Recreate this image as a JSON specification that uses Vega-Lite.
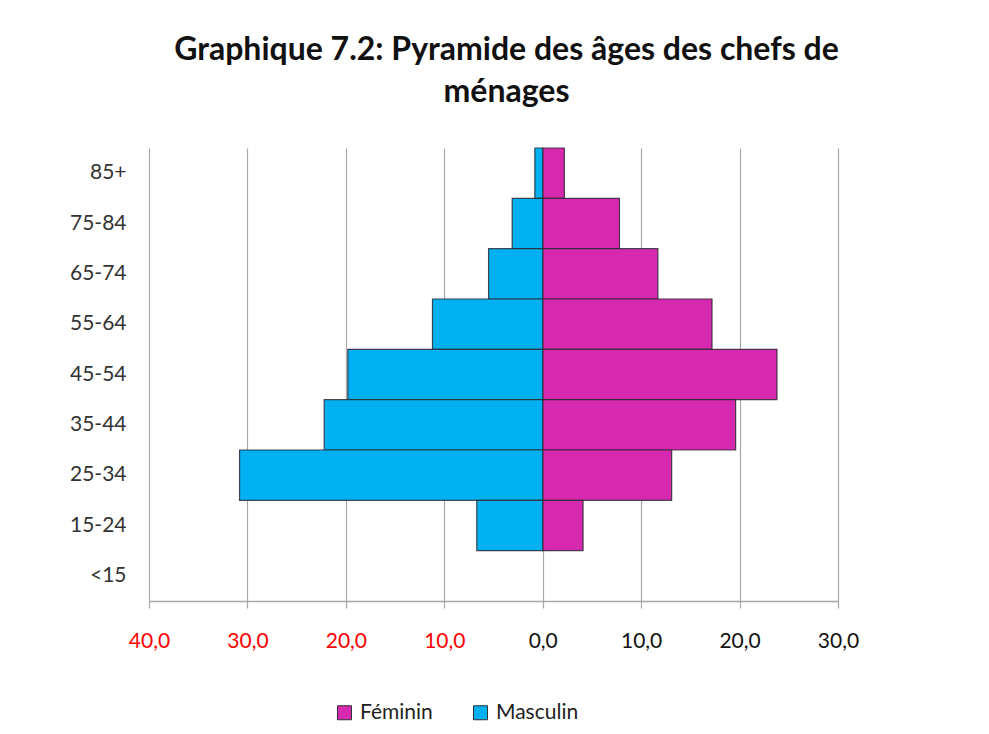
{
  "$schema": "https://vega.github.io/schema/vega-lite/v6.json",
  "autosize": {"type": "none"},
  "width": 689,
  "height": 453,
  "padding": {"left": 149, "top": 148, "right": 151, "bottom": 133},
  "background": "white",
  "title": {
    "text": ["Graphique 7.2: Pyramide des âges des chefs de", "ménages"],
    "font": "Lato",
    "fontSize": 32,
    "fontWeight": "bold",
    "color": "#111111",
    "anchor": "middle",
    "dx": 13,
    "offset": 38,
    "lineHeight": 42
  },
  "data": {
    "values": [
      {"age": "85+", "sexe": "Féminin", "pct": 2.2},
      {"age": "75-84", "sexe": "Féminin", "pct": 7.8},
      {"age": "65-74", "sexe": "Féminin", "pct": 11.7},
      {"age": "55-64", "sexe": "Féminin", "pct": 17.2},
      {"age": "45-54", "sexe": "Féminin", "pct": 23.8},
      {"age": "35-44", "sexe": "Féminin", "pct": 19.6},
      {"age": "25-34", "sexe": "Féminin", "pct": 13.1},
      {"age": "15-24", "sexe": "Féminin", "pct": 4.1},
      {"age": "<15", "sexe": "Féminin", "pct": 0},
      {"age": "85+", "sexe": "Masculin", "pct": 0.8},
      {"age": "75-84", "sexe": "Masculin", "pct": 3.1},
      {"age": "65-74", "sexe": "Masculin", "pct": 5.5},
      {"age": "55-64", "sexe": "Masculin", "pct": 11.2},
      {"age": "45-54", "sexe": "Masculin", "pct": 19.8},
      {"age": "35-44", "sexe": "Masculin", "pct": 22.2},
      {"age": "25-34", "sexe": "Masculin", "pct": 30.8},
      {"age": "15-24", "sexe": "Masculin", "pct": 6.7},
      {"age": "<15", "sexe": "Masculin", "pct": 0}
    ]
  },
  "transform": [
    {"filter": "datum.pct > 0"},
    {"calculate": "datum.sexe === 'Masculin' ? -datum.pct : datum.pct", "as": "x"}
  ],
  "mark": {"type": "bar", "stroke": "#2a2a35", "strokeWidth": 1.2, "strokeOpacity": 0.85},
  "encoding": {
    "y": {
      "field": "age",
      "type": "nominal",
      "scale": {"domain": ["85+", "75-84", "65-74", "55-64", "45-54", "35-44", "25-34", "15-24", "<15"], "paddingInner": 0, "paddingOuter": 0},
      "axis": {
        "title": null,
        "domain": false,
        "ticks": false,
        "labelPadding": 23,
        "labelFont": "Lato",
        "labelFontSize": 21,
        "labelColor": "#333333"
      }
    },
    "x": {
      "field": "x",
      "type": "quantitative",
      "scale": {"domain": [-40, 30], "nice": false, "zero": false},
      "axis": {
        "title": null,
        "values": [-40, -30, -20, -10, 0, 10, 20, 30],
        "labelExpr": "replace(format(abs(datum.value), '.1f'), '.', ',')",
        "labelColor": {"condition": {"test": "datum.value < 0", "value": "#FF0000"}, "value": "#111111"},
        "labelFont": "Lato",
        "labelFontSize": 21,
        "labelPadding": 22,
        "labelFlush": false,
        "labelOverlap": false,
        "grid": true,
        "gridColor": "#A8A8A8",
        "gridWidth": 1.2,
        "domainColor": "#A8A8A8",
        "domainWidth": 1.5,
        "tickColor": "#A8A8A8",
        "tickSize": 7,
        "tickWidth": 1.2
      }
    },
    "color": {
      "field": "sexe",
      "type": "nominal",
      "scale": {"domain": ["Féminin", "Masculin"], "range": ["#D629AF", "#00B0F0"]},
      "legend": {
        "title": null,
        "orient": "none",
        "direction": "horizontal",
        "legendX": 185,
        "legendY": 554,
        "symbolType": "square",
        "symbolSize": 196,
        "symbolStrokeColor": "#333333",
        "symbolStrokeWidth": 1,
        "labelFont": "Lato",
        "labelFontSize": 21,
        "labelColor": "#222222",
        "columnPadding": 37,
        "labelOffset": 5
      }
    }
  },
  "config": {"view": {"stroke": null}}
}
